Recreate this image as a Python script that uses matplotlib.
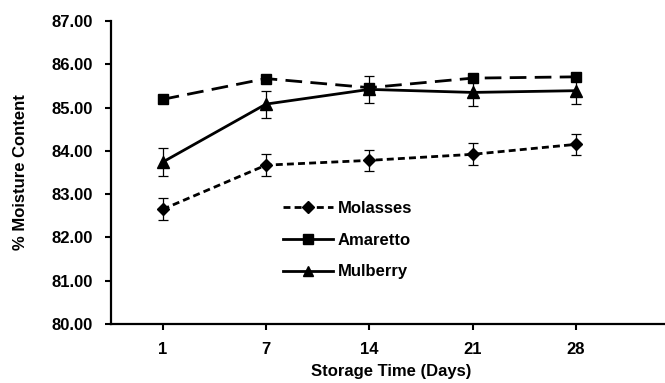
import matplotlib
matplotlib.use('Agg')
import matplotlib.pyplot as plt
from matplotlib.lines import Line2D
import numpy as np

plt.rcParams['font.family'] = ['Liberation Sans', 'DejaVu Sans']
plt.rcParams['font.weight'] = 'bold'

# data
days = ['1', '7', '14', '21', '28']
molasses = [82.65, 83.67, 83.78, 83.92, 84.15]
molasses_err = [0.25, 0.26, 0.25, 0.25, 0.25]
amaretto = [85.19, 85.67, 85.46, 85.68, 85.71]
mulberry = [83.74, 85.08, 85.42, 85.35, 85.39]
mulberry_err = [0.32, 0.31, 0.31, 0.32, 0.31]

FS = 12
W, H = 665, 383
fig = plt.figure(figsize=(W / 100, H / 100), dpi=100)
# axes box in pixels: left 111, right past the edge, top 21, bottom 324
left, right, top, bottom = 111, 672, 21, 324
ax = fig.add_axes([left / W, 1 - bottom / H, (right - left) / W, (bottom - top) / H])

x = np.arange(len(days))
cap = dict(capsize=3.5, elinewidth=0.9, capthick=0.9, ecolor='black')

ax.errorbar(x, molasses, yerr=molasses_err, color='black', lw=2,
            linestyle=(0, (2.5, 1.5)), marker='D', ms=6.5, **cap)
ax.plot(x, amaretto, color='black', lw=2, linestyle=(0, (6, 3)),
        marker='s', ms=7.5)
ax.errorbar(x, mulberry, yerr=mulberry_err, color='black', lw=2,
            linestyle='-', marker='^', ms=8.5, **cap)

ax.set_ylim(80, 87)
ax.set_yticks(np.arange(80, 88, 1))
ax.set_yticklabels(['%.2f' % v for v in np.arange(80, 88, 1)])
ax.set_xlim(-0.5, (right - left) / 103.3 - 0.5)
ax.set_xticks(x)
ax.set_xticklabels(days)

for s in ['top', 'right']:
    ax.spines[s].set_visible(False)
for s in ['left', 'bottom']:
    ax.spines[s].set_linewidth(1.6)
ax.tick_params(axis='both', direction='out', length=4, width=1.5, labelsize=FS)
ax.tick_params(axis='y', pad=9)
ax.tick_params(axis='x', pad=9)
for lab in ax.get_xticklabels() + ax.get_yticklabels():
    lab.set_fontweight('bold')

ax.set_xlabel('Storage Time (Days)', fontsize=FS, fontweight='bold', labelpad=5)
ax.set_ylabel('% Moisture Content', fontsize=FS, fontweight='bold', labelpad=17)

handles = [
    Line2D([], [], color='black', lw=2, linestyle=(0, (2.5, 1.5)), marker='D', ms=6),
    Line2D([], [], color='black', lw=2, linestyle='-', marker='s', ms=7),
    Line2D([], [], color='black', lw=2, linestyle='-', marker='^', ms=7),
]
ax.legend(handles, ['Molasses', 'Amaretto', 'Mulberry'], loc='upper left',
          bbox_to_anchor=(283 / W, 1 - 201 / H), bbox_transform=fig.transFigure,
          frameon=False, handlelength=3.0, handletextpad=0.3,
          labelspacing=1.0, borderpad=0, borderaxespad=0,
          prop={'weight': 'bold', 'size': FS})

fig.savefig('out.png', dpi=100)
